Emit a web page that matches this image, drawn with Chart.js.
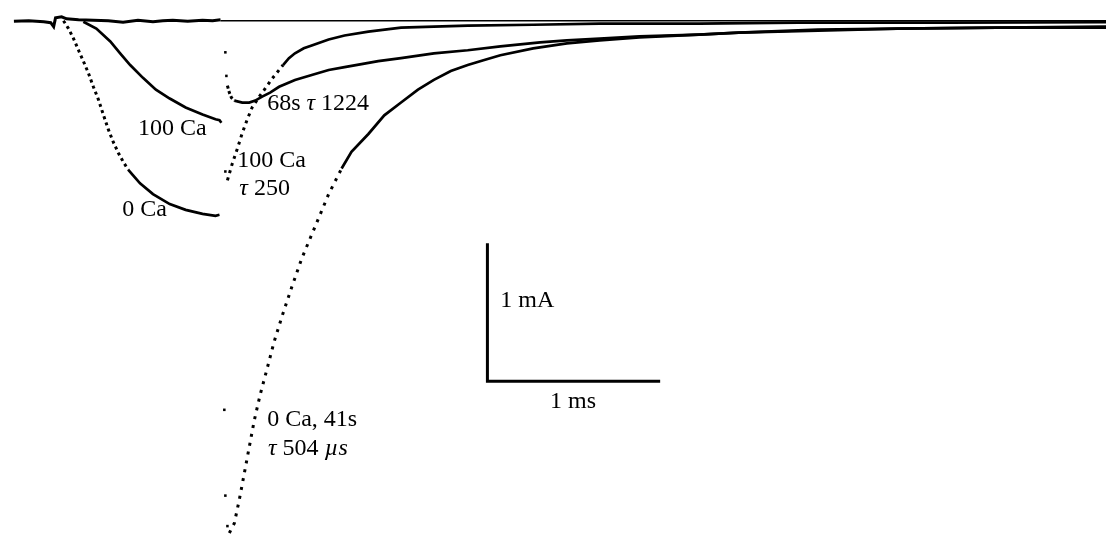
<!DOCTYPE html>
<html>
<head>
<meta charset="utf-8">
<script src="https://cdn.jsdelivr.net/npm/chart.js@4.4.0/dist/chart.umd.min.js"></script>
<style>
  html, body { margin: 0; padding: 0; background: #fff; }
  #wrap { width: 1110px; height: 539px; }
</style>
</head>
<body>
<div id="wrap"><canvas id="traces" width="1110" height="539"></canvas></div>
<script>
// time in ms (0 = end of prepulse), current in mA

// zero line
const zeroT = [-0.011, 5.115];
const zeroI = [0, 0];

// holding current before the pulses (traces overlap here)
const holdT = [-1.207, -1.121, -1.034, -0.994, -0.977, -0.966, -0.931, -0.902, -0.833, -0.747, -0.661, -0.575, -0.489, -0.402, -0.345, -0.287, -0.201, -0.115, -0.057, -0.011];
const holdI = [-0.004, 0, -0.007, -0.014, -0.043, 0.021, 0.029, 0.014, 0.007, 0.004, 0, -0.011, 0.004, -0.007, 0, 0.004, -0.004, 0.004, 0, 0.007];

// prepulse, 100 Ca
const ca100PreT = [-0.805, -0.730, -0.649, -0.592, -0.534, -0.460, -0.385, -0.305, -0.213, -0.115, -0.040, -0.017, -0.006];
const ca100PreI = [-0.007, -0.057, -0.150, -0.236, -0.321, -0.414, -0.500, -0.564, -0.629, -0.679, -0.714, -0.721, -0.740];

// prepulse, 0 Ca (fast part sampled sparsely -> dots)
const ca0DotT = [-0.920, -0.891, -0.862, -0.833, -0.805, -0.776, -0.747, -0.718, -0.690, -0.661, -0.632, -0.603, -0.575, -0.546];
const ca0DotI = [0, -0.057, -0.129, -0.214, -0.293, -0.379, -0.479, -0.571, -0.679, -0.786, -0.879, -0.957, -1.021, -1.079];
const ca0PreT = [-0.546, -0.517, -0.477, -0.402, -0.305, -0.213, -0.115, -0.040, -0.017];
const ca0PreI = [-1.079, -1.121, -1.179, -1.257, -1.329, -1.371, -1.400, -1.414, -1.407];

// tail, 100 Ca tau 250
const tail100FirstT = [0.017];
const tail100FirstI = [-1.093];
const tail100DotT = [0.029, 0.057, 0.086, 0.115, 0.144, 0.172, 0.213, 0.247, 0.287, 0.328, 0.351];
const tail100DotI = [-1.157, -1.036, -0.929, -0.814, -0.714, -0.629, -0.550, -0.493, -0.421, -0.357, -0.321];
const tail100T = [0.351, 0.385, 0.420, 0.471, 0.517, 0.615, 0.707, 0.845, 1.034, 1.224, 1.420, 1.799, 2.184, 2.759, 3.333, 4.195, 5.115];
const tail100I = [-0.321, -0.271, -0.236, -0.200, -0.179, -0.136, -0.107, -0.079, -0.050, -0.043, -0.036, -0.029, -0.021, -0.021, -0.014, -0.014, -0.011];

// tail, 68s tau 1224
const tail68FirstT = [0.017, 0.023];
const tail68FirstI = [-0.229, -0.400];
const tail68DotT = [0.029, 0.040, 0.052, 0.069];
const tail68DotI = [-0.471, -0.521, -0.557, -0.579];
const tail68T = [0.069, 0.115, 0.155, 0.190, 0.230, 0.276, 0.328, 0.420, 0.517, 0.615, 0.707, 0.805, 0.902, 1.034, 1.224, 1.420, 1.609, 1.839, 1.994, 2.184, 2.414, 2.759, 2.989, 3.448, 3.908, 4.483, 5.115];
const tail68I = [-0.579, -0.593, -0.593, -0.579, -0.550, -0.521, -0.479, -0.429, -0.393, -0.357, -0.336, -0.314, -0.293, -0.271, -0.236, -0.214, -0.186, -0.157, -0.143, -0.129, -0.114, -0.100, -0.086, -0.064, -0.057, -0.050, -0.043];

// tail, 0 Ca 41s tau 504 us
const tail0FirstT = [0.011, 0.017, 0.029];
const tail0FirstI = [-2.821, -3.443, -3.664];
const tail0DotT = [0.040, 0.069, 0.098, 0.126, 0.155, 0.184, 0.218, 0.259, 0.299, 0.345, 0.402, 0.460, 0.534, 0.615, 0.690];
const tail0DotI = [-3.714, -3.643, -3.471, -3.286, -3.093, -2.900, -2.714, -2.521, -2.329, -2.143, -1.929, -1.721, -1.500, -1.257, -1.071];
const tail0T = [0.690, 0.747, 0.845, 0.937, 1.034, 1.132, 1.224, 1.322, 1.420, 1.511, 1.609, 1.799, 1.994, 2.184, 2.414, 2.759, 2.989, 3.448, 3.908, 4.483, 5.115];
const tail0I = [-1.071, -0.950, -0.821, -0.686, -0.593, -0.500, -0.429, -0.364, -0.321, -0.286, -0.250, -0.200, -0.164, -0.143, -0.121, -0.100, -0.086, -0.071, -0.057, -0.050, -0.050];

// scale bar: 1 mA / 1 ms
const barT = [1.534, 1.534, 2.534];
const barI = [-1.614, -2.614, -2.614];

const pts = (ts, is) => ts.map((t, k) => ({ x: t, y: is[k] }));

function solid(ts, is, w) {
    return { data: pts(ts, is), showLine: true, borderColor: '#000', borderWidth: w || 2.7, pointRadius: 0 };
}
function dotted(ts, is, gap) {
    return { data: pts(ts, is), showLine: true, borderColor: '#000', borderWidth: 3,
        borderDash: [3, gap], borderCapStyle: 'butt', pointRadius: 0 };
}
function samples(ts, is) {
    return { data: pts(ts, is), showLine: false, pointStyle: 'rect', pointRadius: 1.8,
        backgroundColor: '#000', borderWidth: 0 };
}

const notes = [
    { t: -0.489, i: -0.829, parts: [['100 Ca']] },
    { t: -0.580, i: -1.414, parts: [['0 Ca']] },
    { t: 0.259, i: -0.650, parts: [['68s '], ['τ', true], [' 1224']] },
    { t: 0.086, i: -1.057, parts: [['100 Ca']] },
    { t: 0.098, i: -1.264, parts: [['τ', true], [' 250']] },
    { t: 0.259, i: -2.936, parts: [['0 Ca, 41s']] },
    { t: 0.264, i: -3.150, parts: [['τ', true], [' 504 '], ['µs', true]] },
    { t: 1.609, i: -2.079, parts: [['1 mA']] },
    { t: 1.897, i: -2.807, parts: [['1 ms']] },
];

const notePlugin = {
    id: 'notes',
    afterDatasetsDraw(chart) {
        const { ctx, scales: { x, y } } = chart;
        ctx.save();
        ctx.fillStyle = '#000';
        ctx.textBaseline = 'alphabetic';
        notes.forEach(n => {
            let px = x.getPixelForValue(n.t);
            const py = y.getPixelForValue(n.i);
            n.parts.forEach(([txt, it]) => {
                ctx.font = (it ? 'italic ' : '') + '24px "Liberation Serif"';
                ctx.fillText(txt, px, py);
                px += ctx.measureText(txt).width;
            });
        });
        ctx.restore();
    }
};

const ctx = document.getElementById('traces').getContext('2d');

new Chart(ctx, {
    type: 'scatter',
    data: {
        datasets: [
            solid(zeroT, zeroI, 1.5),
            solid(holdT, holdI, 3),
            solid(ca100PreT, ca100PreI),
            dotted(ca0DotT, ca0DotI, 3.5),
            solid(ca0PreT, ca0PreI),
            samples(tail100FirstT, tail100FirstI),
            dotted(tail100DotT, tail100DotI, 4.5),
            solid(tail100T, tail100I),
            samples(tail68FirstT, tail68FirstI),
            dotted(tail68DotT, tail68DotI, 2.5),
            solid(tail68T, tail68I),
            samples(tail0FirstT, tail0FirstI),
            dotted(tail0DotT, tail0DotI, 6),
            solid(tail0T, tail0I),
            solid(barT, barI, 3),
        ],
    },
    options: {
        responsive: false,
        animation: false,
        devicePixelRatio: 1,
        layout: { padding: 0 },
        plugins: { legend: { display: false }, tooltip: { enabled: false } },
        scales: {
            x: { type: 'linear', min: -1.2644, max: 5.1149, display: false },
            y: { type: 'linear', min: -3.7286, max: 0.1214, display: false },
        },
    },
    plugins: [notePlugin],
});
</script>
</body>
</html>
